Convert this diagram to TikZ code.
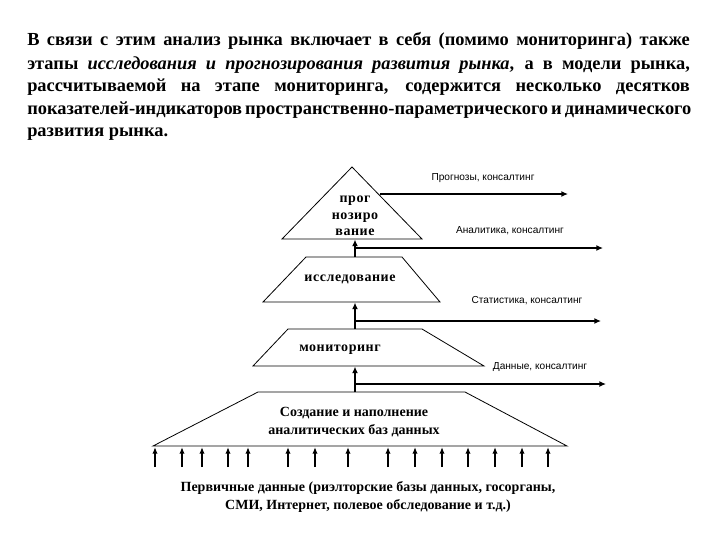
\documentclass[tikz,border=0pt]{standalone}
\usepackage{fontspec}
\setmainfont{Liberation Serif}
\newfontfamily\lsans{Liberation Sans}
\newfontfamily\spaced[LetterSpace=4]{Liberation Serif}
\usetikzlibrary{arrows.meta}
\tikzset{
  para/.style={anchor=base west,inner sep=0pt,font=\bfseries\fontsize{13.8}{16}\selectfont},
  trap/.style={draw=black,line width=0.6pt,line join=miter},
  flow/.style={draw=black,line width=1.5pt,-{Latex[length=5pt,width=4.5pt]}},
  upin/.style={draw=black,line width=1.1pt,-{Latex[length=5pt,width=4pt]}},
  lbl/.style={font=\lsans\fontsize{7.6}{9}\selectfont,inner sep=0pt},
  stage/.style={font=\spaced\bfseries\fontsize{10.5}{12.5}\selectfont,inner sep=0pt,align=center},
  basetext/.style={font=\bfseries\fontsize{10.5}{13.5}\selectfont,inner sep=0pt,align=center}
}
\begin{document}
\begin{tikzpicture}[x=0.75pt,y=-0.75pt]
\useasboundingbox (0,0) rectangle (720,540);
% paragraph
\node[para] (l1) at (27,45) {\makebox[497pt][s]{В связи с этим анализ рынка включает в себя (помимо мониторинга) также}};
\node[para] (l2) at (27,69) {\makebox[497pt][s]{этапы \textit{исследования и прогнозирования развития рынка}, а в модели рынка,}};
\node[para] (l3) at (27,91) {\makebox[497pt][s]{рассчитываемой на этапе мониторинга, содержится несколько десятков}};
\node[para] (l4) at (27,114) {\makebox[497pt][s]{показателей-индикаторов пространственно-параметрического и динамического}};
\node[para] (l5) at (27,136) {развития рынка.};
% shapes
\coordinate (t1a) at (352,167);
\coordinate (t1l) at (282,239);
\coordinate (t1r) at (422,239);
\draw[trap] (t1l) -- (t1a) -- (t1r) -- cycle;
\coordinate (t2tl) at (306,257); \coordinate (t2tr) at (402,257);
\coordinate (t2bl) at (263,302); \coordinate (t2br) at (440,302);
\draw[trap] (t2bl) -- (t2tl) -- (t2tr) -- (t2br) -- cycle;
\coordinate (t3tl) at (288,329); \coordinate (t3tr) at (422,329);
\coordinate (t3bl) at (253,366); \coordinate (t3br) at (484,366);
\draw[trap] (t3bl) -- (t3tl) -- (t3tr) -- (t3br) -- cycle;
\coordinate (t4tl) at (258,392); \coordinate (t4tr) at (465,392);
\coordinate (t4bl) at (153,446); \coordinate (t4br) at (567,446);
\draw[trap] (t4bl) -- (t4tl) -- (t4tr) -- (t4br) -- cycle;
% stage texts
\node[stage] (s1) at (355,216) {прог\\нозиро\\вание};
\node[stage] (s2) at (350,279) {исследование};
\node[stage] (s3) at (340,350) {мониторинг};
\node[basetext] (s4) at (354,422) {Создание и наполнение\\аналитических баз данных};
\node[basetext] (s5) at (368,497) {Первичные данные (риэлторские базы данных, госорганы,\\СМИ, Интернет, полевое обследование  и т.д.)};
% vertical flows
\coordinate (v1b) at (355,257); \coordinate (v1t) at (355,239.5);
\coordinate (v2b) at (355,329); \coordinate (v2t) at (355,302.5);
\coordinate (v3b) at (355,392); \coordinate (v3t) at (355,366.5);
\draw[flow] (v1b) -- (v1t);
\draw[flow] (v2b) -- (v2t);
\draw[flow] (v3b) -- (v3t);
% horizontal outputs
\coordinate (h0s) at (380,194); \coordinate (h0e) at (568,194);
\coordinate (h1s) at (355,248); \coordinate (h1e) at (603,248);
\coordinate (h2s) at (355,321); \coordinate (h2e) at (601,321);
\coordinate (h3s) at (355,384); \coordinate (h3e) at (606,384);
\draw[flow] (h0s) -- (h0e);
\draw[flow] (h1s) -- (h1e);
\draw[flow] (h2s) -- (h2e);
\draw[flow] (h3s) -- (h3e);
\node[lbl] (o0) at (483,178) {Прогнозы, консалтинг};
\node[lbl] (o1) at (510,231) {Аналитика, консалтинг};
\node[lbl] (o2) at (527,301) {Статистика, консалтинг};
\node[lbl] (o3) at (540,367) {Данные, консалтинг};
% input arrows
\foreach \x [count=\i] in {155,182,202,228,248,288,315,348,388,415,442,468,495,522,548}{
  \coordinate (ib\i) at (\x,467);
  \coordinate (it\i) at (\x,447);
  \draw[upin] (ib\i) -- (it\i);
}
\end{tikzpicture}
\end{document}
